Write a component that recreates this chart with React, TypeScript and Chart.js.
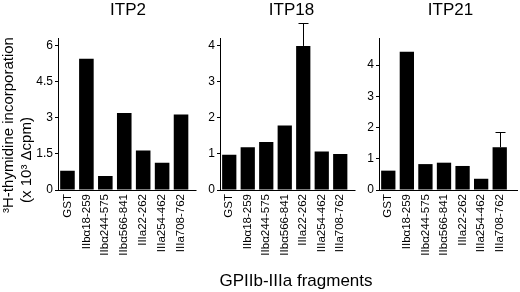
import React, { useEffect, useRef } from "react";
import { Chart, registerables } from "chart.js";

Chart.register(...registerables);

const categories = [
  "GST",
  "IIbα18-259",
  "IIbα244-575",
  "IIbα566-841",
  "IIIa22-262",
  "IIIa254-462",
  "IIIa708-762",
];
const panelTitles = ["ITP2", "ITP18", "ITP21"];

const itp2Values = [0.8, 5.47, 0.58, 3.21, 1.64, 1.14, 3.14];
const itp18Values = [0.98, 1.19, 1.33, 1.79, 4.0, 1.07, 1.0];
const itp21Values = [0.62, 4.43, 0.83, 0.875, 0.77, 0.36, 1.37];

const itp2Errors = [0, 0, 0, 0, 0, 0, 0];
const itp18Errors = [0, 0, 0, 0, 0.63, 0, 0];
const itp21Errors = [0, 0, 0, 0, 0, 0, 0.5];

const itp2Ticks = [0, 1.5, 3, 4.5, 6];
const itp18Ticks = [0, 1, 2, 3, 4];
const itp21Ticks = [0, 1, 2, 3, 4];

const yMaxes = [6.33, 4.22, 4.87];

const yTitleLine1 = "³H-thymidine incorporation";
const yTitleLine2 = "(x 10³ Δcpm)";
const xTitle = "GPIIb-IIIa fragments";

const FONT = "'Liberation Sans', Arial, Helvetica, sans-serif";

type PanelLayout = {
  canvasLeft: number;
  canvasWidth: number;
  areaLeft: number;
  areaRight: number;
  lineExt: number;
  titleCenter: number;
};

const layouts: PanelLayout[] = [
  { canvasLeft: 0, canvasWidth: 200, areaLeft: 58, areaRight: 190.5, lineExt: 6, titleCenter: 128 },
  { canvasLeft: 200, canvasWidth: 160, areaLeft: 220, areaRight: 349.5, lineExt: 6, titleCenter: 291.5 },
  { canvasLeft: 360, canvasWidth: 160, areaLeft: 379, areaRight: 509, lineExt: 9, titleCenter: 450.5 },
];

const panelData = [
  { values: itp2Values, errors: itp2Errors, ticks: itp2Ticks },
  { values: itp18Values, errors: itp18Errors, ticks: itp18Ticks },
  { values: itp21Values, errors: itp21Errors, ticks: itp21Ticks },
];

const AREA_TOP = 38;
const AREA_BOTTOM = 190;
const H = 292;

function Panel({ idx }: { idx: number }) {
  const ref = useRef<HTMLCanvasElement | null>(null);
  const lay = layouts[idx];
  const pd = panelData[idx];

  useEffect(() => {
    if (!ref.current) return;
    const yAxisWidth = lay.areaLeft - lay.canvasLeft;
    const rightPad = lay.canvasLeft + lay.canvasWidth - lay.areaRight;

    const extrasPlugin = {
      id: "extras" + idx,
      afterDatasetsDraw(chart: any) {
        const ctx = chart.ctx;
        const meta = chart.getDatasetMeta(0);
        const ys = chart.scales.y;
        ctx.save();
        ctx.strokeStyle = "#000";
        ctx.lineWidth = 1;
        pd.errors.forEach((e: number, i: number) => {
          if (!e) return;
          const bar = meta.data[i];
          const x = Math.round(bar.x) + 0.5;
          const y0 = ys.getPixelForValue(pd.values[i]);
          const y1 = Math.round(ys.getPixelForValue(pd.values[i] + e)) + 0.5;
          ctx.beginPath();
          ctx.moveTo(x, y0);
          ctx.lineTo(x, y1);
          ctx.moveTo(x - 5, y1);
          ctx.lineTo(x + 5, y1);
          ctx.stroke();
        });
        const a = chart.chartArea;
        const yb = Math.round(a.bottom) + 0.5;
        ctx.beginPath();
        ctx.moveTo(a.left, yb);
        ctx.lineTo(a.right + lay.lineExt, yb);
        ctx.stroke();
        ctx.restore();
      },
    };

    const chart = new Chart(ref.current, {
      type: "bar",
      data: {
        labels: categories,
        datasets: [
          {
            data: pd.values,
            backgroundColor: "#000",
            borderWidth: 0,
            barPercentage: 0.77,
            categoryPercentage: 1,
          },
        ],
      },
      options: {
        responsive: false,
        animation: false,
        devicePixelRatio: 1,
        layout: { padding: { top: AREA_TOP, left: 0, right: rightPad, bottom: 0 } },
        plugins: {
          legend: { display: false },
          tooltip: { enabled: false },
          title: { display: false },
        },
        scales: {
          x: {
            type: "category",
            offset: true,
            grid: { display: false, drawTicks: false },
            border: { display: false },
            ticks: {
              autoSkip: false,
              maxRotation: 90,
              minRotation: 90,
              padding: 4,
              color: "#000",
              font: { family: FONT, size: 11.5 },
            },
            afterFit(scale: any) {
              scale.height = H - AREA_BOTTOM;
            },
          },
          y: {
            type: "linear",
            min: 0,
            max: yMaxes[idx],
            grid: {
              display: true,
              drawOnChartArea: false,
              drawTicks: true,
              tickLength: 3,
              color: "#000",
            },
            border: { display: true, color: "#000", width: 1 },
            ticks: {
              padding: 2,
              color: "#000",
              font: { family: FONT, size: 12 },
              callback: (v: any) => String(v),
            },
            afterBuildTicks(scale: any) {
              scale.ticks = pd.ticks.map((v: number) => ({ value: v }));
            },
            afterFit(scale: any) {
              scale.width = yAxisWidth;
            },
          },
        },
      } as any,
      plugins: [extrasPlugin],
    });
    return () => chart.destroy();
  }, []);

  return (
    <>
      <canvas
        ref={ref}
        width={lay.canvasWidth}
        height={H}
        style={{
          position: "absolute",
          left: lay.canvasLeft,
          top: 0,
          width: lay.canvasWidth,
          height: H,
        }}
      />
      <div
        style={{
          position: "absolute",
          left: lay.titleCenter - 40,
          width: 80,
          top: 1,
          textAlign: "center",
          fontFamily: FONT,
          fontSize: 17,
          lineHeight: "17px",
          color: "#000",
          whiteSpace: "nowrap",
        }}
      >
        {panelTitles[idx]}
      </div>
    </>
  );
}

function RotText({ text, cx, cy, size }: { text: string; cx: number; cy: number; size: number }) {
  return (
    <div
      style={{
        position: "absolute",
        left: cx,
        top: cy,
        transform: "translate(-50%, -50%) rotate(-90deg)",
        fontFamily: FONT,
        fontSize: size,
        lineHeight: size + "px",
        whiteSpace: "nowrap",
        color: "#000",
      }}
    >
      {text}
    </div>
  );
}

export default function App() {
  return (
    <div
      style={{
        position: "absolute",
        left: 0,
        top: 0,
        width: 520,
        height: 292,
        background: "#fff",
        overflow: "hidden",
      }}
    >
      <Panel idx={0} />
      <Panel idx={1} />
      <Panel idx={2} />
      <RotText text={yTitleLine1} cx={7} cy={125} size={15} />
      <RotText text={yTitleLine2} cx={25} cy={160} size={15} />
      <div
        style={{
          position: "absolute",
          left: 296 - 130,
          width: 260,
          top: 272,
          textAlign: "center",
          fontFamily: FONT,
          fontSize: 17,
          lineHeight: "17px",
          color: "#000",
          whiteSpace: "nowrap",
        }}
      >
        {xTitle}
      </div>
    </div>
  );
}
